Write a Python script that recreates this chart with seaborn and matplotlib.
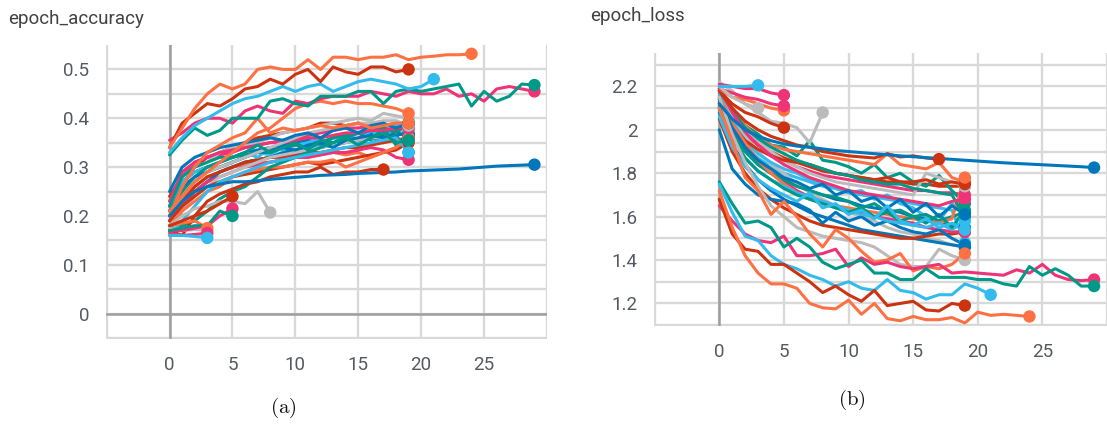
import numpy as np
import pandas as pd
import matplotlib
matplotlib.use("Agg")
import matplotlib.pyplot as plt
import seaborn as sns

# TensorBoard run colours
COLORS = {
    'orange': '#ff7043',
    'blue': '#0077bb',
    'red': '#cc3311',
    'cyan': '#33bbee',
    'magenta': '#ee3377',
    'gray': '#bbbbbb',
    'teal': '#009988',
}

# ---------------- epoch_accuracy (values per epoch, starting at epoch 0) ----------------
acc_orange_top = [0.34, 0.38, 0.42, 0.45, 0.47, 0.46, 0.47, 0.50, 0.505, 0.50, 0.50, 0.52, 0.50,
                  0.525, 0.525, 0.52, 0.525, 0.525, 0.53, 0.52, 0.525, 0.527, 0.53, 0.53, 0.532]
acc_red_top = [0.34, 0.39, 0.41, 0.43, 0.425, 0.44, 0.46, 0.465, 0.48, 0.47, 0.49, 0.50, 0.475,
               0.505, 0.495, 0.49, 0.505, 0.505, 0.495, 0.50]
acc_cyan_top = [0.33, 0.36, 0.385, 0.40, 0.415, 0.43, 0.44, 0.445, 0.455, 0.465, 0.455, 0.465,
                0.47, 0.455, 0.465, 0.475, 0.48, 0.475, 0.47, 0.46, 0.465, 0.48]
acc_pink_top = [0.355, 0.37, 0.39, 0.40, 0.40, 0.39, 0.415, 0.425, 0.415, 0.41, 0.435, 0.43,
                0.44, 0.445, 0.445, 0.445, 0.455, 0.45, 0.445, 0.455, 0.45, 0.45, 0.46, 0.445,
                0.45, 0.435, 0.46, 0.465, 0.46, 0.455]
acc_teal_top = [0.325, 0.355, 0.38, 0.365, 0.375, 0.40, 0.40, 0.40, 0.435, 0.44, 0.43, 0.425,
                0.445, 0.445, 0.445, 0.455, 0.455, 0.43, 0.455, 0.46, 0.455, 0.46, 0.465, 0.47,
                0.425, 0.455, 0.435, 0.445, 0.47, 0.468]
acc_blue_long = [0.20, 0.23, 0.25, 0.26, 0.265, 0.27, 0.27, 0.272, 0.275, 0.277, 0.279, 0.281,
                 0.283, 0.284, 0.285, 0.287, 0.288, 0.289, 0.29, 0.292, 0.293, 0.294, 0.295,
                 0.296, 0.298, 0.30, 0.302, 0.303, 0.304, 0.305]
acc_orange_a = [0.21, 0.24, 0.27, 0.29, 0.31, 0.33, 0.35, 0.37, 0.38, 0.40, 0.42, 0.43, 0.435,
                0.43, 0.435, 0.43, 0.43, 0.425, 0.42, 0.41]
acc_orange_b = [0.20, 0.26, 0.30, 0.33, 0.345, 0.36, 0.37, 0.40, 0.37, 0.38, 0.375, 0.38, 0.385,
                0.38, 0.385, 0.39, 0.38, 0.385, 0.39, 0.39]
acc_gray_short = [0.18, 0.20, 0.215, 0.22, 0.23, 0.23, 0.225, 0.25, 0.207]
acc_red_17 = [0.17, 0.16, 0.20, 0.23, 0.245, 0.255, 0.265, 0.27, 0.28, 0.285, 0.29, 0.29, 0.30,
              0.285, 0.29, 0.29, 0.295, 0.295]
acc_teal_5 = [0.17, 0.175, 0.18, 0.18, 0.21, 0.20]
acc_pink_5 = [0.17, 0.17, 0.175, 0.18, 0.20, 0.215]
acc_red_5 = [0.18, 0.19, 0.20, 0.21, 0.225, 0.24]
acc_cyan_3 = [0.16, 0.16, 0.158, 0.155]
acc_pink_3 = [0.165, 0.16, 0.162, 0.165]
acc_gray_3 = [0.175, 0.17, 0.172, 0.17]
acc_orange_3 = [0.18, 0.185, 0.19, 0.175]

# bundle of runs that stop at epoch 19
acc_cluster = [
    [0.22, 0.27, 0.29, 0.30, 0.31, 0.32, 0.33, 0.335, 0.34, 0.345, 0.35, 0.355, 0.35, 0.36, 0.365, 0.37, 0.37, 0.375, 0.38, 0.385],
    [0.24, 0.28, 0.30, 0.32, 0.33, 0.34, 0.35, 0.36, 0.365, 0.37, 0.375, 0.38, 0.39, 0.39, 0.385, 0.39, 0.385, 0.38, 0.375, 0.37],
    [0.21, 0.28, 0.31, 0.32, 0.325, 0.33, 0.34, 0.345, 0.35, 0.355, 0.36, 0.365, 0.37, 0.375, 0.38, 0.38, 0.385, 0.385, 0.39, 0.39],
    [0.19, 0.24, 0.27, 0.29, 0.30, 0.31, 0.32, 0.33, 0.325, 0.34, 0.32, 0.35, 0.36, 0.34, 0.365, 0.35, 0.375, 0.36, 0.385, 0.375],
    [0.18, 0.22, 0.25, 0.27, 0.29, 0.30, 0.31, 0.315, 0.32, 0.325, 0.33, 0.335, 0.34, 0.345, 0.35, 0.355, 0.36, 0.35, 0.365, 0.33],
    [0.23, 0.28, 0.30, 0.31, 0.33, 0.34, 0.345, 0.35, 0.36, 0.37, 0.375, 0.38, 0.385, 0.39, 0.395, 0.40, 0.395, 0.41, 0.405, 0.40],
    [0.20, 0.23, 0.26, 0.28, 0.29, 0.30, 0.305, 0.31, 0.31, 0.315, 0.32, 0.32, 0.325, 0.33, 0.325, 0.33, 0.32, 0.33, 0.34, 0.36],
    [0.17, 0.21, 0.25, 0.27, 0.29, 0.30, 0.31, 0.315, 0.32, 0.33, 0.335, 0.34, 0.345, 0.35, 0.355, 0.355, 0.36, 0.365, 0.365, 0.37],
    [0.20, 0.23, 0.26, 0.28, 0.29, 0.30, 0.31, 0.315, 0.32, 0.32, 0.325, 0.33, 0.33, 0.335, 0.34, 0.34, 0.345, 0.35, 0.355, 0.36],
    [0.19, 0.22, 0.25, 0.27, 0.28, 0.29, 0.30, 0.305, 0.31, 0.315, 0.32, 0.32, 0.325, 0.33, 0.33, 0.335, 0.34, 0.335, 0.32, 0.315],
    [0.22, 0.27, 0.29, 0.30, 0.31, 0.32, 0.33, 0.32, 0.34, 0.335, 0.345, 0.35, 0.34, 0.36, 0.355, 0.37, 0.36, 0.38, 0.37, 0.385],
    [0.21, 0.25, 0.28, 0.30, 0.31, 0.32, 0.325, 0.33, 0.33, 0.34, 0.345, 0.34, 0.35, 0.36, 0.365, 0.37, 0.355, 0.38, 0.345, 0.37],
    [0.18, 0.21, 0.24, 0.26, 0.28, 0.29, 0.30, 0.31, 0.32, 0.325, 0.33, 0.335, 0.34, 0.345, 0.35, 0.355, 0.36, 0.36, 0.37, 0.375],
    [0.20, 0.26, 0.28, 0.29, 0.30, 0.31, 0.32, 0.33, 0.335, 0.34, 0.335, 0.345, 0.35, 0.34, 0.355, 0.36, 0.365, 0.36, 0.37, 0.365],
    [0.19, 0.22, 0.24, 0.26, 0.27, 0.28, 0.285, 0.29, 0.295, 0.30, 0.305, 0.31, 0.305, 0.31, 0.315, 0.32, 0.325, 0.33, 0.335, 0.35],
    [0.18, 0.21, 0.23, 0.25, 0.26, 0.28, 0.29, 0.295, 0.30, 0.30, 0.305, 0.31, 0.31, 0.315, 0.30, 0.31, 0.32, 0.33, 0.34, 0.36],
    [0.17, 0.18, 0.19, 0.21, 0.235, 0.25, 0.26, 0.28, 0.30, 0.31, 0.32, 0.33, 0.34, 0.35, 0.36, 0.37, 0.375, 0.38, 0.37, 0.39],
    [0.23, 0.29, 0.31, 0.32, 0.33, 0.335, 0.34, 0.345, 0.35, 0.35, 0.355, 0.36, 0.36, 0.365, 0.37, 0.37, 0.375, 0.375, 0.38, 0.38],
    [0.20, 0.24, 0.27, 0.29, 0.30, 0.31, 0.32, 0.33, 0.34, 0.35, 0.36, 0.37, 0.375, 0.38, 0.385, 0.39, 0.39, 0.395, 0.395, 0.385],
    [0.16, 0.19, 0.22, 0.25, 0.27, 0.28, 0.29, 0.30, 0.31, 0.315, 0.32, 0.325, 0.33, 0.335, 0.34, 0.345, 0.35, 0.355, 0.36, 0.33],
    [0.25, 0.30, 0.32, 0.33, 0.34, 0.345, 0.35, 0.355, 0.36, 0.355, 0.365, 0.37, 0.36, 0.375, 0.38, 0.37, 0.385, 0.39, 0.38, 0.39],
    [0.22, 0.28, 0.30, 0.31, 0.32, 0.32, 0.33, 0.345, 0.33, 0.34, 0.35, 0.335, 0.355, 0.35, 0.36, 0.345, 0.36, 0.37, 0.35, 0.355],
]
acc_cluster_colors = ['blue', 'red', 'magenta', 'cyan', 'teal', 'gray', 'orange', 'blue', 'red', 'magenta',
                      'cyan', 'teal', 'gray', 'blue', 'red', 'orange', 'teal', 'magenta', 'gray', 'cyan',
                      'blue', 'teal']

# ---------------- epoch_loss ----------------
loss_blue_long = [2.12, 2.05, 2.00, 1.97, 1.95, 1.935, 1.925, 1.92, 1.912, 1.905, 1.90, 1.895,
                  1.89, 1.885, 1.88, 1.876, 1.872, 1.868, 1.864, 1.86, 1.856, 1.852, 1.848,
                  1.845, 1.842, 1.839, 1.836, 1.833, 1.83, 1.826]
loss_orange_low = [1.72, 1.55, 1.42, 1.34, 1.29, 1.29, 1.27, 1.20, 1.18, 1.175, 1.215, 1.15, 1.20,
                   1.13, 1.12, 1.14, 1.125, 1.125, 1.135, 1.11, 1.16, 1.145, 1.15, 1.145, 1.14]
loss_red_low = [1.68, 1.52, 1.45, 1.44, 1.38, 1.38, 1.34, 1.30, 1.25, 1.28, 1.24, 1.21, 1.26,
                1.19, 1.20, 1.21, 1.17, 1.165, 1.20, 1.19]
loss_cyan_low = [1.75, 1.62, 1.51, 1.49, 1.42, 1.38, 1.36, 1.33, 1.31, 1.28, 1.30, 1.27, 1.26,
                 1.31, 1.26, 1.25, 1.22, 1.24, 1.24, 1.29, 1.27, 1.24]
loss_pink_low = [1.65, 1.58, 1.52, 1.49, 1.48, 1.51, 1.42, 1.42, 1.43, 1.45, 1.37, 1.41, 1.38,
                 1.39, 1.37, 1.36, 1.37, 1.38, 1.34, 1.345, 1.34, 1.335, 1.33, 1.355, 1.34, 1.38,
                 1.33, 1.31, 1.305, 1.31]
loss_teal_low = [1.76, 1.66, 1.57, 1.58, 1.55, 1.46, 1.50, 1.46, 1.39, 1.36, 1.38, 1.40, 1.34,
                 1.34, 1.31, 1.31, 1.36, 1.32, 1.32, 1.32, 1.31, 1.31, 1.29, 1.28, 1.37, 1.33,
                 1.36, 1.33, 1.28, 1.28]
loss_orange_mid = [2.10, 1.95, 1.78, 1.72, 1.61, 1.67, 1.60, 1.52, 1.46, 1.54, 1.50, 1.44, 1.39,
                   1.40, 1.43, 1.35, 1.37, 1.36, 1.38, 1.43]
loss_gray_short = [2.22, 2.18, 2.12, 2.08, 2.04, 2.03, 2.01, 1.94, 2.08]
loss_gray_mid = [2.15, 1.98, 1.85, 1.74, 1.65, 1.60, 1.55, 1.53, 1.51, 1.50, 1.49, 1.48, 1.46,
                 1.42, 1.38, 1.37, 1.37, 1.45, 1.42, 1.40]
loss_red_17 = [2.18, 2.10, 2.04, 2.00, 1.97, 1.95, 1.93, 1.92, 1.90, 1.89, 1.88, 1.875, 1.87,
               1.89, 1.875, 1.88, 1.87, 1.865]
loss_cyan_3 = [2.20, 2.20, 2.20, 2.205]
loss_gray_3 = [2.20, 2.15, 2.12, 2.10]
loss_pink_5a = [2.21, 2.20, 2.19, 2.19, 2.17, 2.16]
loss_pink_5b = [2.19, 2.17, 2.15, 2.14, 2.12, 2.11]
loss_orange_5 = [2.19, 2.15, 2.14, 2.12, 2.10, 2.09]
loss_red_5 = [2.18, 2.12, 2.08, 2.06, 2.03, 2.01]

loss_cluster = [
    [2.10, 1.98, 1.90, 1.84, 1.80, 1.77, 1.74, 1.72, 1.70, 1.68, 1.67, 1.65, 1.64, 1.63, 1.62, 1.60, 1.59, 1.58, 1.56, 1.55],
    [2.15, 2.05, 1.98, 1.93, 1.90, 1.87, 1.85, 1.83, 1.81, 1.80, 1.79, 1.78, 1.77, 1.76, 1.76, 1.75, 1.75, 1.74, 1.74, 1.74],
    [2.17, 2.06, 1.98, 1.93, 1.89, 1.86, 1.83, 1.81, 1.79, 1.78, 1.77, 1.76, 1.75, 1.74, 1.73, 1.72, 1.72, 1.71, 1.71, 1.70],
    [2.12, 2.00, 1.92, 1.87, 1.83, 1.80, 1.78, 1.76, 1.74, 1.73, 1.71, 1.70, 1.69, 1.68, 1.67, 1.66, 1.65, 1.64, 1.63, 1.48],
    [2.14, 2.08, 2.02, 1.98, 1.93, 1.92, 1.88, 1.95, 1.86, 1.85, 1.83, 1.80, 1.84, 1.78, 1.80, 1.76, 1.74, 1.79, 1.72, 1.66],
    [2.18, 2.06, 1.97, 1.90, 1.84, 1.80, 1.75, 1.71, 1.68, 1.65, 1.62, 1.60, 1.58, 1.55, 1.53, 1.52, 1.50, 1.49, 1.47, 1.46],
    [2.20, 2.10, 2.02, 1.96, 1.93, 1.91, 1.90, 1.89, 1.88, 1.87, 1.86, 1.85, 1.84, 1.89, 1.84, 1.83, 1.82, 1.85, 1.78, 1.76],
    [2.08, 1.93, 1.84, 1.77, 1.72, 1.68, 1.65, 1.62, 1.60, 1.58, 1.56, 1.54, 1.53, 1.52, 1.51, 1.50, 1.49, 1.48, 1.47, 1.46],
    [2.05, 1.90, 1.80, 1.73, 1.68, 1.64, 1.61, 1.58, 1.56, 1.55, 1.54, 1.53, 1.52, 1.51, 1.50, 1.50, 1.51, 1.52, 1.52, 1.53],
    [2.13, 2.00, 1.91, 1.85, 1.80, 1.76, 1.72, 1.69, 1.67, 1.65, 1.63, 1.62, 1.60, 1.59, 1.58, 1.57, 1.55, 1.54, 1.53, 1.53],
    [2.16, 2.04, 1.95, 1.89, 1.85, 1.82, 1.80, 1.77, 1.75, 1.73, 1.71, 1.72, 1.68, 1.70, 1.66, 1.64, 1.60, 1.58, 1.66, 1.62],
    [2.10, 1.98, 1.90, 1.84, 1.80, 1.77, 1.74, 1.72, 1.70, 1.69, 1.67, 1.64, 1.66, 1.62, 1.63, 1.60, 1.61, 1.58, 1.60, 1.62],
    [2.20, 2.09, 2.01, 1.95, 1.90, 1.86, 1.83, 1.80, 1.78, 1.76, 1.75, 1.74, 1.73, 1.72, 1.71, 1.70, 1.80, 1.78, 1.76, 1.74],
    [2.00, 1.82, 1.75, 1.70, 1.68, 1.67, 1.66, 1.63, 1.57, 1.62, 1.58, 1.60, 1.56, 1.58, 1.55, 1.53, 1.52, 1.54, 1.50, 1.47],
    [2.12, 2.02, 1.95, 1.91, 1.88, 1.86, 1.85, 1.84, 1.82, 1.80, 1.79, 1.78, 1.77, 1.78, 1.76, 1.76, 1.77, 1.75, 1.76, 1.75],
    [2.15, 2.03, 1.94, 1.86, 1.80, 1.75, 1.71, 1.68, 1.66, 1.65, 1.64, 1.63, 1.62, 1.61, 1.60, 1.59, 1.58, 1.57, 1.59, 1.78],
    [2.18, 2.09, 2.01, 1.96, 1.92, 1.89, 1.86, 1.84, 1.82, 1.80, 1.79, 1.77, 1.76, 1.75, 1.75, 1.73, 1.72, 1.71, 1.70, 1.60],
    [2.19, 2.08, 1.99, 1.93, 1.88, 1.84, 1.81, 1.78, 1.76, 1.74, 1.72, 1.71, 1.70, 1.69, 1.68, 1.67, 1.66, 1.65, 1.67, 1.68],
    [2.09, 1.96, 1.87, 1.81, 1.77, 1.74, 1.71, 1.69, 1.67, 1.65, 1.63, 1.61, 1.60, 1.58, 1.57, 1.56, 1.55, 1.57, 1.54, 1.58],
    [2.11, 1.97, 1.87, 1.81, 1.77, 1.73, 1.70, 1.68, 1.66, 1.64, 1.62, 1.64, 1.60, 1.62, 1.58, 1.60, 1.57, 1.61, 1.55, 1.63],
    [2.14, 2.01, 1.92, 1.86, 1.82, 1.78, 1.76, 1.73, 1.75, 1.70, 1.72, 1.67, 1.69, 1.64, 1.68, 1.62, 1.66, 1.60, 1.65, 1.61],
    [2.06, 1.92, 1.83, 1.77, 1.73, 1.70, 1.67, 1.71, 1.64, 1.66, 1.61, 1.63, 1.59, 1.65, 1.58, 1.56, 1.59, 1.55, 1.57, 1.54],
]
loss_cluster_colors = ['blue', 'red', 'magenta', 'cyan', 'teal', 'gray', 'orange', 'blue', 'red', 'magenta',
                       'cyan', 'teal', 'gray', 'blue', 'red', 'orange', 'teal', 'magenta', 'cyan', 'teal',
                       'blue', 'cyan']


def build_frame(runs):
    rows = []
    for i, (col, vals) in enumerate(runs):
        for ep, v in enumerate(vals):
            rows.append({'run': f'run{i:02d}', 'epoch': ep, 'value': v, 'color': COLORS[col]})
    return pd.DataFrame(rows)


def draw_runs(ax, df):
    palette = df.groupby('run', sort=False)['color'].first().to_dict()
    sns.lineplot(data=df, x='epoch', y='value', hue='run', palette=palette,
                 estimator=None, sort=False, legend=False, linewidth=2.2, ax=ax, zorder=2)
    last = df.groupby('run', sort=False).tail(1)
    sns.scatterplot(data=last, x='epoch', y='value', hue='run', palette=palette,
                    s=80, linewidth=0, legend=False, ax=ax, zorder=3, clip_on=False)


def style_axes(ax, xlim, ylim, yticks, ylabels, zero_line=False):
    ax.set_xlim(*xlim)
    ax.set_ylim(*ylim)
    xt = list(range(-5, 31, 5))
    ax.set_xticks(xt)
    ax.set_xticklabels(['' if (t < 0 or t > 25) else str(t) for t in xt])
    ax.set_yticks(yticks)
    ax.set_yticklabels(ylabels)
    ax.grid(True, color='#d9d9d9', linewidth=1.7)
    ax.set_axisbelow(True)
    for s in ax.spines.values():
        s.set_visible(False)
    ax.tick_params(length=7, width=1.7, color='#d9d9d9', labelcolor='#555a60',
                   labelsize=13.5, pad=5)
    ax.axvline(0, color='#9e9e9e', linewidth=1.8, zorder=1)
    if zero_line:
        ax.axhline(0, color='#9e9e9e', linewidth=1.8, zorder=1)
    ax.set_xlabel('')
    ax.set_ylabel('')


def main():
    sns.set_style('white')
    plt.rcParams['font.family'] = ['Roboto', 'DejaVu Sans']
    plt.rcParams['mathtext.fontset'] = 'cm'

    acc_runs = list(zip(acc_cluster_colors, acc_cluster)) + [
        ('gray', acc_gray_short), ('red', acc_red_17), ('gray', acc_gray_3),
        ('orange', acc_orange_3), ('magenta', acc_pink_3),
        ('cyan', acc_cyan_3), ('red', acc_red_5), ('magenta', acc_pink_5), ('teal', acc_teal_5),
        ('orange', acc_orange_a), ('orange', acc_orange_b), ('blue', acc_blue_long),
        ('magenta', acc_pink_top), ('teal', acc_teal_top), ('cyan', acc_cyan_top),
        ('red', acc_red_top), ('orange', acc_orange_top),
    ]
    loss_runs = list(zip(loss_cluster_colors, loss_cluster)) + [
        ('gray', loss_gray_short), ('gray', loss_gray_mid), ('red', loss_red_17),
        ('orange', loss_orange_mid), ('blue', loss_blue_long),
        ('red', loss_red_5), ('orange', loss_orange_5), ('magenta', loss_pink_5b),
        ('magenta', loss_pink_5a), ('gray', loss_gray_3), ('cyan', loss_cyan_3),
        ('magenta', loss_pink_low), ('teal', loss_teal_low),
        ('cyan', loss_cyan_low), ('red', loss_red_low), ('orange', loss_orange_low),
    ]
    acc_df = build_frame(acc_runs)
    loss_df = build_frame(loss_runs)

    fig = plt.figure(figsize=(11.07, 4.25), dpi=100)
    ax1 = fig.add_axes([106 / 1107, 1 - 339 / 425, 441 / 1107, 294 / 425])
    ax2 = fig.add_axes([654 / 1107, 1 - 326 / 425, 453 / 1107, 273 / 425])

    draw_runs(ax1, acc_df)
    acc_ticks = [-0.05, 0, 0.05, 0.1, 0.15, 0.2, 0.25, 0.3, 0.35, 0.4, 0.45, 0.5]
    acc_labels = ['', '0', '', '0.1', '', '0.2', '', '0.3', '', '0.4', '', '0.5']
    style_axes(ax1, (-5.05, 30.0), (-0.052, 0.55), acc_ticks, acc_labels, zero_line=True)

    draw_runs(ax2, loss_df)
    loss_ticks = [1.1, 1.2, 1.3, 1.4, 1.5, 1.6, 1.7, 1.8, 1.9, 2.0, 2.1, 2.2, 2.3]
    loss_labels = ['', '1.2', '', '1.4', '', '1.6', '', '1.8', '', '2', '', '2.2', '']
    style_axes(ax2, (-5.05, 29.6), (1.096, 2.354), loss_ticks, loss_labels)

    fig.text(8 / 1107, 1 - 19 / 425, 'epoch_accuracy', fontsize=13.5, color='#424242',
             va='center', ha='left')
    fig.text(590 / 1107, 1 - 16 / 425, 'epoch_loss', fontsize=13.5, color='#424242',
             va='center', ha='left')
    fig.text(283 / 1107, 1 - 408 / 425, r'$\mathrm{(a)}$', fontsize=15, color='#111111',
             ha='center', va='center')
    fig.text(852 / 1107, 1 - 400 / 425, r'$\mathrm{(b)}$', fontsize=15, color='#111111',
             ha='center', va='center')

    fig.savefig('out.png', dpi=100)


if __name__ == '__main__':
    main()
